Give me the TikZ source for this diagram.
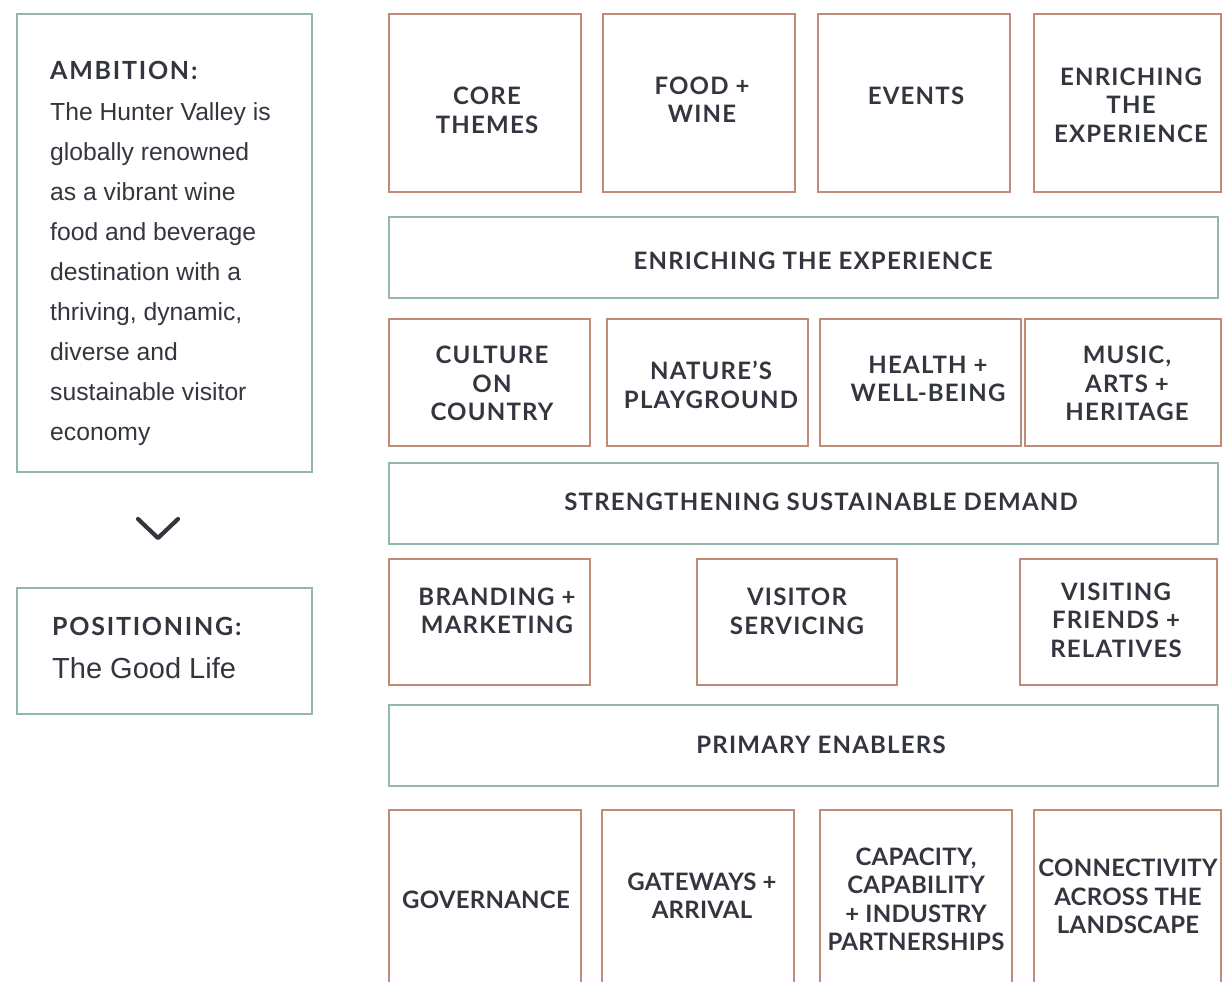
\documentclass[tikz,border=0pt]{standalone}
\usepackage{fontspec}
\usetikzlibrary{fit}
\newfontfamily\hdfont[LetterSpace=5]{Lato}
\newfontfamily\hdhead[LetterSpace=7]{Lato}
\newfontfamily\hdtight[LetterSpace=1]{Lato}
\newfontfamily\bodyfont{Liberation Sans}
\definecolor{brownline}{HTML}{BF8D76}
\definecolor{greenline}{HTML}{93B8AA}
\definecolor{inkc}{HTML}{33363F}
\tikzset{
  bbox/.style={draw=brownline, line width=2.8pt, inner sep=0pt},
  gbox/.style={draw=greenline, line width=2.8pt, inner sep=0pt},
  lbl/.style={text=inkc, align=center, inner sep=0pt, font=\hdfont\bfseries\fontsize{24}{28.5}\selectfont},
  lbltight/.style={text=inkc, align=center, inner sep=0pt, font=\hdtight\bfseries\fontsize{24}{28.5}\selectfont},
  bodyline/.style={text=inkc, anchor=base west, inner sep=0pt, font=\bodyfont\fontsize{24.7}{30}\selectfont},
}
\begin{document}
\begin{tikzpicture}[x=1pt,y=-1pt]
\useasboundingbox (0,0) rectangle (1223,982);
\clip (0,0) rectangle (1223,982);

% left column
\node[gbox, fit={(17,14) (312,472)}] (ambbox) {};
\node[gbox, fit={(17,588) (312,714)}] (posbox) {};
\node[text=inkc, anchor=base west, inner sep=0pt, font=\hdhead\bfseries\fontsize{25}{30}\selectfont] (ambt) at (50,80) {AMBITION:};
\foreach \t [count=\i] in {The Hunter Valley is, globally renowned, as a vibrant wine, food and beverage, destination with a, {thriving, dynamic,}, diverse and, sustainable visitor, economy}
  \node[bodyline] (amb\i) at (50,80+40*\i) {\t};
\node[text=inkc, anchor=base west, inner sep=0pt, font=\hdhead\bfseries\fontsize{25}{30}\selectfont] (post) at (52,635) {POSITIONING:};
\node[text=inkc, anchor=base west, inner sep=0pt, font=\bodyfont\fontsize{29}{34}\selectfont] (posv) at (52,678) {The Good Life};
\coordinate (chl) at (138,519);
\coordinate (chm) at (158,538);
\coordinate (chr) at (178,519);
\draw[inkc, line width=4.2pt, line cap=round, line join=round] (chl) -- (chm) -- (chr);

% row 1
\node[bbox, fit={(389,14) (581,192)}] (r1a) {};
\node[bbox, fit={(603,14) (795,192)}] (r1b) {};
\node[bbox, fit={(818,14) (1010,192)}] (r1c) {};
\node[bbox, fit={(1034,14) (1221,192)}] (r1d) {};
\node[lbl] (t1a) at (487,110.5) {CORE\\THEMES};
\node[lbl] (t1b) at (702,99.5) {FOOD +\\WINE};
\node[lbl] (t1c) at (916,96) {EVENTS};
\node[lbl] (t1d) at (1131,105) {ENRICHING\\THE\\EXPERIENCE};

% bar 1
\node[gbox, fit={(389,217) (1218,298)}] (bar1) {};
\node[lbl] (tbar1) at (813,261) {ENRICHING THE EXPERIENCE};

% row 3
\node[bbox, fit={(389,319) (590,446)}] (r3a) {};
\node[bbox, fit={(607,319) (808,446)}] (r3b) {};
\node[bbox, fit={(820,319) (1021,446)}] (r3c) {};
\node[bbox, fit={(1025,319) (1221,446)}] (r3d) {};
\node[lbl] (t3a) at (492,383.5) {CULTURE\\ON\\COUNTRY};
\node[lbl] (t3b) at (711,385) {NATURE’S\\PLAYGROUND};
\node[lbl] (t3c) at (928,379) {HEALTH +\\WELL-BEING};
\node[lbl] (t3d) at (1127,383.5) {MUSIC,\\ARTS +\\HERITAGE};

% bar 2
\node[gbox, fit={(389,463) (1218,544)}] (bar2) {};
\node[lbl] (tbar2) at (821,502) {STRENGTHENING SUSTAINABLE DEMAND};

% row 5
\node[bbox, fit={(389,559) (590,685)}] (r5a) {};
\node[bbox, fit={(697,559) (897,685)}] (r5b) {};
\node[bbox, fit={(1020,559) (1217,685)}] (r5c) {};
\node[lbl] (t5a) at (497,611) {BRANDING +\\MARKETING};
\node[lbl] (t5b) at (797,611.5) {VISITOR\\SERVICING};
\node[lbl] (t5c) at (1116,620) {VISITING\\FRIENDS +\\RELATIVES};

% bar 3
\node[gbox, fit={(389,705) (1218,786)}] (bar3) {};
\node[lbl] (tbar3) at (821,745) {PRIMARY ENABLERS};

% row 7
\node[bbox, fit={(389,810) (581,1000)}] (r7a) {};
\node[bbox, fit={(602,810) (794,1000)}] (r7b) {};
\node[bbox, fit={(820,810) (1012,1000)}] (r7c) {};
\node[bbox, fit={(1034,810) (1221,1000)}] (r7d) {};
\node[lbltight] (t7a) at (486,900) {GOVERNANCE};
\node[lbltight] (t7b) at (702,895.5) {GATEWAYS +\\ARRIVAL};
\node[lbltight] (t7c) at (916,899.5) {CAPACITY,\\CAPABILITY\\+ INDUSTRY\\PARTNERSHIPS};
\node[lbltight] (t7d) at (1128,896.5) {CONNECTIVITY\\ACROSS THE\\LANDSCAPE};
\end{tikzpicture}
\end{document}
